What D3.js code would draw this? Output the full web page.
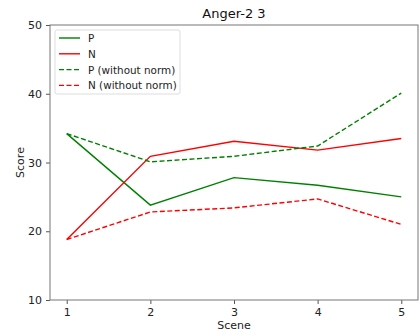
<!DOCTYPE html>
<html>
<head>
<meta charset="utf-8">
<script src="https://cdn.jsdelivr.net/npm/d3@7"></script>
<style>
  body { margin: 0; background: #fff; }
  text { font-family: "DejaVu Sans", sans-serif; }
</style>
</head>
<body>
<div id="chart"></div>
<script>
const scenes = [1, 2, 3, 4, 5];
const pNorm = [34.2, 23.8, 27.8, 26.7, 25.0];
const nNorm = [18.8, 30.9, 33.1, 31.8, 33.5];
const pRaw = [34.2, 30.1, 30.9, 32.4, 40.1];
const nRaw = [18.8, 22.8, 23.4, 24.7, 21.0];
const yTicks = [10, 20, 30, 40, 50];
const seriesNames = ['P', 'N', 'P (without norm)', 'N (without norm)'];

const W = 419, H = 335;
const margin = { top: 25, right: 1, bottom: 35, left: 50 };
const width = W - margin.left - margin.right;
const height = H - margin.top - margin.bottom;

const series = [
  { name: seriesNames[0], values: pNorm, color: 'green', dash: null },
  { name: seriesNames[1], values: nNorm, color: 'red', dash: null },
  { name: seriesNames[2], values: pRaw, color: 'green', dash: '5,2.5' },
  { name: seriesNames[3], values: nRaw, color: 'red', dash: '5,2.5' }
];

const svg = d3.select('#chart').append('svg')
  .attr('width', W).attr('height', H);
const g = svg.append('g')
  .attr('transform', `translate(${margin.left},${margin.top})`);

const x = d3.scaleLinear().domain([0.8, 5.2]).range([0, width]);
const y = d3.scaleLinear().domain([10, 50]).range([height, 0]);

// lineas
const line = d3.line()
  .x((d, i) => x(scenes[i]))
  .y(d => y(d));

series.forEach(s => {
  g.append('path')
    .datum(s.values)
    .attr('fill', 'none')
    .attr('stroke', s.color)
    .attr('stroke-width', 1.4)
    .attr('stroke-dasharray', s.dash)
    .attr('d', line);
});

// ejes
const xAxis = g.append('g')
  .attr('transform', `translate(0,${height})`)
  .call(d3.axisBottom(x).tickValues(scenes).tickFormat(d3.format('d')).tickSize(4).tickPadding(4));
const yAxis = g.append('g')
  .call(d3.axisLeft(y).tickValues(yTicks).tickSize(4).tickPadding(4));

[xAxis, yAxis].forEach(a => {
  a.select('.domain').remove();
  a.selectAll('line').attr('stroke', '#555');
  a.selectAll('text').attr('fill', '#222').style('font-size', '11px');
});

g.append('rect')
  .attr('width', width).attr('height', height)
  .attr('fill', 'none').attr('stroke', '#777').attr('stroke-width', 1);

// titulos
svg.append('text')
  .attr('x', margin.left + width / 2).attr('y', 18)
  .attr('text-anchor', 'middle')
  .style('font-size', '13px').attr('fill', '#111')
  .text('Anger-2 3');

svg.append('text')
  .attr('x', margin.left + width / 2).attr('y', 329)
  .attr('text-anchor', 'middle')
  .style('font-size', '11px').attr('fill', '#222')
  .text('Scene');

svg.append('text')
  .attr('transform', `translate(24,${margin.top + height / 2}) rotate(-90)`)
  .attr('text-anchor', 'middle')
  .style('font-size', '11px').attr('fill', '#222')
  .text('Score');

// leyenda
const legend = g.append('g').attr('transform', 'translate(5,5)');
legend.append('rect')
  .attr('width', 125).attr('height', 64).attr('rx', 2)
  .attr('fill', '#fff').attr('stroke', '#ddd');
series.forEach((s, i) => {
  const ly = 8 + i * 15.8;
  legend.append('line')
    .attr('x1', 4).attr('x2', 25).attr('y1', ly).attr('y2', ly)
    .attr('stroke', s.color).attr('stroke-width', 1.4)
    .attr('stroke-dasharray', s.dash);
  legend.append('text')
    .attr('x', 33).attr('y', ly + 4)
    .style('font-size', '10.4px').attr('fill', '#222')
    .text(s.name);
});
</script>
</body>
</html>
